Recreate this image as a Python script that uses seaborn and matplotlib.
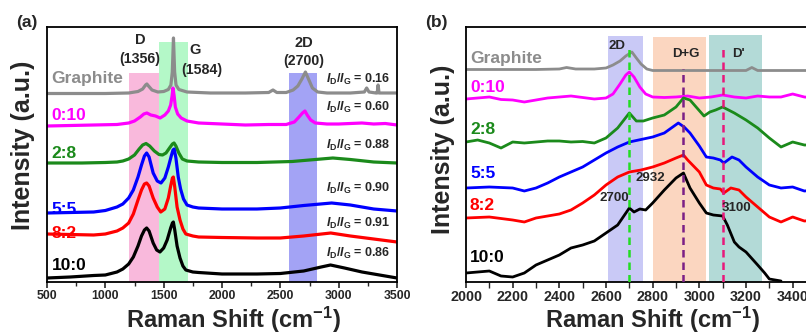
import matplotlib
matplotlib.use("Agg")
import matplotlib.pyplot as plt
import seaborn as sns
import pandas as pd
from matplotlib.ticker import MultipleLocator

# ---------------- full-range spectra (offset, a.u.) ----------------
graphite_x = [500, 800, 1000, 1200, 1280, 1320, 1345, 1356, 1370, 1400, 1450, 1500, 1540, 1562, 1574, 1584,
              1594, 1606, 1630, 1700, 1900, 2200, 2400, 2437, 2470, 2550, 2610, 2650, 2685, 2715, 2745, 2775,
              2820, 2900, 3100, 3220, 3240, 3260, 3320, 3330, 3338, 3346, 3400, 3500]
graphite_y = [188.5, 188.5, 188.5, 189, 190.5, 193, 197, 198, 196, 192, 190, 190.5, 192.5, 197, 210, 244,
              210, 197, 192.5, 190, 189, 189, 189.5, 192, 189.5, 189.5, 192, 196, 203, 210, 202, 194,
              190, 189, 189, 190, 194, 190, 189, 189, 197, 189, 189, 189]

s0_10_x = [500, 700, 900, 1100, 1200, 1250, 1300, 1330, 1356, 1390, 1430, 1470, 1510, 1540, 1560, 1572, 1580,
           1590, 1600, 1620, 1650, 1700, 1800, 2000, 2200, 2400, 2550, 2620, 2660, 2690, 2711, 2730, 2760,
           2800, 2900, 3000, 3100, 3200, 3300, 3400, 3500]
s0_10_y = [156, 156.5, 157, 157.5, 159, 161, 165, 168, 169, 167, 166, 164, 167, 171, 177, 186, 194,
           186, 175, 168, 164, 161, 159, 158, 157, 157.5, 157.5, 160, 165, 169, 171, 167, 162,
           159, 158, 158, 158.5, 159, 158, 158.5, 157]

s2_8_x = [500, 800, 1000, 1100, 1150, 1200, 1250, 1290, 1320, 1349, 1380, 1420, 1460, 1490, 1520, 1550, 1575,
          1589, 1605, 1630, 1660, 1700, 1800, 2000, 2300, 2600, 2750, 2950, 3100, 3300, 3500]
s2_8_y = [119, 119, 119.5, 120, 121, 123, 127, 133, 137, 138.5, 136, 131, 127.5, 127, 129, 134, 138,
          139, 136, 129, 123, 121, 120, 119.5, 119.5, 120.5, 122, 124, 122.5, 120, 119]

s5_5_x = [500, 700, 900, 1000, 1100, 1150, 1200, 1240, 1280, 1310, 1335, 1354, 1375, 1410, 1445, 1477, 1510,
          1540, 1565, 1580, 1590, 1605, 1625, 1645, 1670, 1700, 1750, 1800, 2000, 2300, 2500, 2700, 2940,
          3100, 3300, 3500]
s5_5_y = [69, 69.5, 70, 71.5, 75, 78, 84, 92, 105, 117, 126, 129, 125, 109, 101, 99, 104,
          115, 126, 132, 133, 124, 105, 93, 83, 77, 75, 74, 73, 73, 74, 76.5, 79,
          77, 73, 71]

s8_2_x = [500, 700, 900, 1000, 1100, 1150, 1200, 1240, 1280, 1310, 1335, 1354, 1375, 1410, 1445, 1475, 1510,
          1540, 1560, 1575, 1583, 1595, 1615, 1640, 1665, 1690, 1750, 1800, 2000, 2300, 2500, 2700, 2932,
          3100, 3300, 3500]
s8_2_y = [48, 47.5, 47, 48, 51, 54, 59, 68, 82, 92, 98, 99, 96, 84, 75, 70, 73,
          84, 96, 104, 105, 95, 75, 62, 53, 48, 46, 45, 44.5, 44, 44, 46, 49,
          46, 43, 40]

s10_0_x = [500, 700, 900, 1000, 1100, 1150, 1200, 1240, 1280, 1310, 1335, 1354, 1375, 1410, 1440, 1468, 1500,
           1530, 1560, 1575, 1583, 1595, 1615, 1640, 1665, 1690, 1750, 1800, 2000, 2300, 2500, 2700, 2850,
           2930, 3050, 3200, 3350, 3500]
s10_0_y = [4, 5, 6.5, 7, 10, 13, 18, 25, 36, 46, 52, 54, 51, 39, 32, 30, 34,
           42, 54, 59, 60, 52, 36, 24, 16, 12, 10, 9.5, 8, 8, 8.5, 11, 15,
           17, 14, 10, 7, 4]

# ---------------- 2000-3500 cm-1 region (offset, a.u.) ----------------
gr_b_x = [2000, 2100, 2200, 2300, 2400, 2431, 2470, 2550, 2600, 2630, 2660, 2685, 2711, 2730, 2750, 2775,
          2800, 2900, 3000, 3100, 3200, 3225, 3250, 3300, 3400, 3500]
gr_b_y = [212.5, 212.5, 212.5, 212.5, 213, 214.5, 213, 213, 214, 217, 221, 226, 230, 224, 218, 213,
          211.5, 211.5, 211.5, 211.5, 211.5, 214.5, 211.5, 211.5, 211.5, 211.5]

m_b_x = [2000, 2050, 2100, 2150, 2200, 2250, 2300, 2350, 2400, 2450, 2500, 2550, 2600, 2630, 2660, 2685,
         2700, 2720, 2745, 2770, 2800, 2850, 2900, 2950, 3000, 3050, 3100, 3150, 3200, 3250, 3300, 3350,
         3400, 3450, 3500]
m_b_y = [183, 184, 185, 182.5, 182, 180, 182, 184, 185, 186, 184.5, 183, 184, 188, 198, 207,
         210, 205, 195, 188, 185, 184.5, 185, 186, 184, 185, 187, 185, 184, 186, 185, 185,
         188, 185, 184]

g_b_x = [2000, 2050, 2100, 2150, 2200, 2250, 2300, 2350, 2400, 2450, 2500, 2550, 2600, 2650, 2700, 2730,
         2760, 2800, 2850, 2900, 2932, 2960, 2990, 3020, 3045, 3070, 3100, 3150, 3200, 3250, 3300, 3350,
         3400, 3450, 3500]
g_b_y = [140, 142, 139, 134, 140, 139, 140, 141, 141, 140, 140.5, 139, 144, 154, 169, 161,
         161, 164, 167, 175, 184, 182, 174, 166, 170, 172, 175, 169, 162, 154, 144, 135,
         140, 137, 137]

b_b_x = [2000, 2100, 2200, 2250, 2300, 2350, 2400, 2450, 2500, 2550, 2600, 2650, 2700, 2750, 2800, 2850,
         2910, 2935, 2960, 3000, 3030, 3060, 3090, 3105, 3140, 3170, 3200, 3250, 3300, 3350, 3400, 3450, 3500]
b_b_y = [94, 95, 94, 91, 94, 99, 105, 110, 115, 122, 129, 135, 140, 142.5, 145, 149,
         159, 155, 149, 136, 125, 124, 122, 119, 125, 122, 115, 105, 97, 94, 95, 91, 92]

r_b_x = [2000, 2100, 2200, 2250, 2300, 2350, 2400, 2450, 2500, 2550, 2600, 2650, 2700, 2750, 2800, 2850,
         2900, 2932, 2950, 3000, 3030, 3060, 3090, 3105, 3135, 3170, 3200, 3250, 3300, 3350, 3400, 3450, 3500]
r_b_y = [64, 65, 62, 60, 64, 66, 68, 72, 79, 87, 97, 105, 110, 112, 115, 119,
         124, 127, 122, 110, 97, 94, 93, 89, 94, 92, 85, 75, 65, 60, 65, 61, 62]

k_b_x = [2000, 2050, 2100, 2150, 2200, 2250, 2300, 2350, 2400, 2450, 2500, 2550, 2600, 2650, 2700, 2720,
         2745, 2770, 2800, 2850, 2900, 2932, 2960, 3000, 3030, 3060, 3100, 3120, 3150, 3170, 3200, 3250,
         3280, 3300, 3350]
k_b_y = [9, 10, 11, 6, 5, 9, 17, 22, 27, 34, 37, 41, 49, 57, 74, 70,
         73, 72, 79, 92, 104, 109, 94, 79, 69, 67, 66, 57, 40, 35, 30, 17,
         9, 3, 1]

samples = ["Graphite", "0:10", "2:8", "5:5", "8:2", "10:0"]
colors = ["#8c8c8c", "#ff00ff", "#1b8a1b", "#0000ff", "#ff0000", "#000000"]
ratios = ["0.16", "0.60", "0.88", "0.90", "0.91", "0.86"]

full_x = [graphite_x, s0_10_x, s2_8_x, s5_5_x, s8_2_x, s10_0_x]
full_y = [graphite_y, s0_10_y, s2_8_y, s5_5_y, s8_2_y, s10_0_y]
zoom_x = [gr_b_x, m_b_x, g_b_x, b_b_x, r_b_x, k_b_x]
zoom_y = [gr_b_y, m_b_y, g_b_y, b_b_y, r_b_y, k_b_y]


def long_table(xs, ys):
    frames = [pd.DataFrame({"shift": x, "intensity": y, "sample": s}) for s, x, y in zip(samples, xs, ys)]
    return pd.concat(frames, ignore_index=True)


sns.set_theme(style="ticks")
plt.rcParams["font.family"] = ["Liberation Sans", "DejaVu Sans"]
plt.rcParams["font.weight"] = "bold"
plt.rcParams["mathtext.fontset"] = "custom"
plt.rcParams["mathtext.rm"] = "Liberation Sans:bold"
plt.rcParams["mathtext.bf"] = "Liberation Sans:bold"
plt.rcParams["mathtext.it"] = "Liberation Sans:bold:italic"

palette = dict(zip(samples, colors))

fig = plt.figure(figsize=(8.06, 3.32), dpi=100)
axA = fig.add_axes([47 / 806, 50 / 332, 350 / 806, 255 / 332])
axB = fig.add_axes([466 / 806, 50 / 332, 350 / 806, 255 / 332])

# ---------- panel (a) ----------
axA.axvspan(1200, 1460, ymin=0, ymax=0.82, color="#f9b9dc", lw=0, zorder=0)
axA.axvspan(1460, 1710, ymin=0, ymax=0.94, color="#b4f8c8", lw=0, zorder=0)
axA.axvspan(2570, 2815, ymin=0, ymax=0.82, color="#a3a3f5", lw=0, zorder=0)

sns.lineplot(data=long_table(full_x, full_y), x="shift", y="intensity", hue="sample",
             palette=palette, hue_order=samples, estimator=None, sort=False,
             linewidth=2.3, legend=False, ax=axA)

axA.set_xlim(500, 3500)
axA.set_ylim(0, 255)
axA.xaxis.set_major_locator(MultipleLocator(500))
axA.xaxis.set_minor_locator(MultipleLocator(250))
axA.tick_params(axis="x", which="major", length=4, width=1.2, labelsize=8.8, pad=2)
axA.tick_params(axis="x", which="minor", length=3, width=1.0)
axA.set_yticks([])

label_y_a = [203, 167, 129, 73, 48, 17]
for s, c, yy in zip(samples, colors, label_y_a):
    axA.text(540, yy, s, color=c, fontsize=12.5, fontweight="bold", ha="left", va="center")

ratio_y = [203, 175, 137, 94, 59, 29]
for r, yy in zip(ratios, ratio_y):
    axA.text(3440, yy, r"$I_\mathrm{D}/I_\mathrm{G}$ = " + r, fontsize=9, fontweight="bold",
             ha="right", va="center")

axA.text(1297, 242, "D", fontsize=10.5, fontweight="bold", ha="center", va="center")
axA.text(1297, 223, "(1356)", fontsize=10.2, fontweight="bold", ha="center", va="center")
axA.text(1768, 232, "G", fontsize=10.5, fontweight="bold", ha="center", va="center")
axA.text(1828, 212, "(1584)", fontsize=10.2, fontweight="bold", ha="center", va="center")
axA.text(2703, 239, "2D", fontsize=10.5, fontweight="bold", ha="center", va="center")
axA.text(2703, 221, "(2700)", fontsize=10.2, fontweight="bold", ha="center", va="center")

# ---------- panel (b) ----------
axB.axvspan(2610, 2760, ymin=0, ymax=0.965, color="#c9c9f6", lw=0, zorder=0)
axB.axvspan(2800, 3030, ymin=0, ymax=0.961, color="#fbd6c0", lw=0, zorder=0)
axB.axvspan(3040, 3270, ymin=0, ymax=0.969, color="#b3dad7", lw=0, zorder=0)

axB.vlines(2700, 0, 235, colors="#22dd22", linestyles=(0, (3, 2)), linewidth=1.8, zorder=3)
axB.vlines(2932, 0, 213, colors="#7b1f86", linestyles=(0, (3, 2)), linewidth=1.8, zorder=3)
axB.vlines(3100, 0, 237, colors="#e8187a", linestyles=(0, (3, 2)), linewidth=1.8, zorder=3)

sns.lineplot(data=long_table(zoom_x, zoom_y), x="shift", y="intensity", hue="sample",
             palette=palette, hue_order=samples, estimator=None, sort=False,
             linewidth=2.0, legend=False, ax=axB)

axB.set_xlim(2000, 3500)
axB.set_ylim(0, 255)
axB.xaxis.set_major_locator(MultipleLocator(200))
axB.xaxis.set_minor_locator(MultipleLocator(100))
axB.tick_params(axis="x", which="major", length=4, width=1.2, labelsize=10.3, pad=2)
axB.tick_params(axis="x", which="minor", length=4, width=1.0)
axB.set_yticks([])

label_y_b = [223, 194, 152, 109, 77, 24]
for s, c, yy in zip(samples, colors, label_y_b):
    axB.text(2017, yy, s, color=c, fontsize=12.5, fontweight="bold", ha="left", va="center")

axB.text(2647, 236, "2D", fontsize=9.5, fontweight="bold", ha="center", va="center")
axB.text(2943, 228, "D+G", fontsize=9.5, fontweight="bold", ha="center", va="center")
axB.text(3166, 228, "D'", fontsize=9.5, fontweight="bold", ha="center", va="center")
axB.text(2789, 104, "2932", fontsize=9.5, fontweight="bold", ha="center", va="center")
axB.text(2634, 84, "2700", fontsize=9.5, fontweight="bold", ha="center", va="center")
axB.text(3161, 74, "3100", fontsize=9.5, fontweight="bold", ha="center", va="center")

for ax, ylab_x, ylab_y in ((axA, -0.034, 0.537), (axB, -0.031, 0.52)):
    for side in ("left", "right", "top", "bottom"):
        ax.spines[side].set_linewidth(1.3)
        ax.spines[side].set_color("black")
    ax.set_xlabel("Raman Shift (cm$^{-1}$)", fontsize=17, fontweight="bold")
    ax.xaxis.set_label_coords(0.533, -0.088)
    ax.set_ylabel("Intensity (a.u.)", fontsize=18, fontweight="bold")
    ax.yaxis.set_label_coords(ylab_x, ylab_y)
    for t in ax.get_xticklabels():
        t.set_fontweight("bold")

fig.text(27 / 806, 1 - 23 / 332, "(a)", fontsize=12.5, fontweight="bold", ha="center", va="center")
fig.text(436 / 806, 1 - 23 / 332, "(b)", fontsize=12.5, fontweight="bold", ha="center", va="center")

fig.savefig("out.png", dpi=100)
